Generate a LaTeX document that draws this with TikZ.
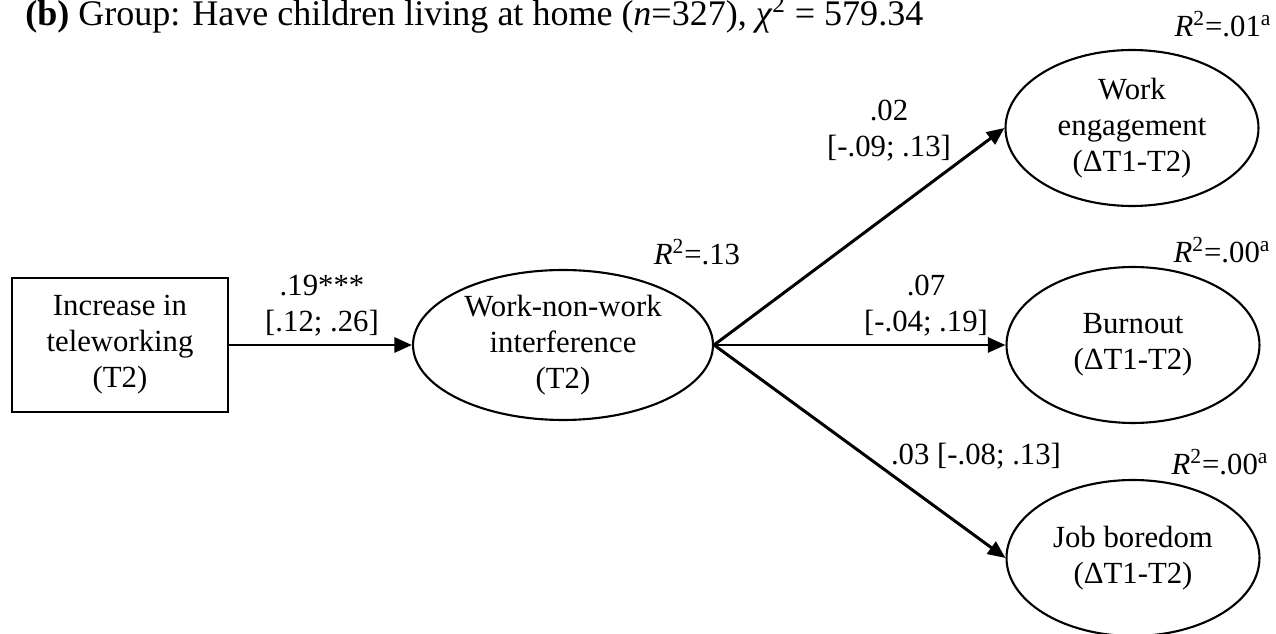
\documentclass[tikz,border=0pt]{standalone}
\usepackage{fontspec}
\setmainfont{Liberation Serif}
\usetikzlibrary{arrows.meta,shapes.geometric}

\tikzset{
    observed/.style={draw, rectangle, line width=1.2pt, align=center,
        minimum width=4.32cm, minimum height=2.68cm, inner sep=0pt},
    latent/.style={draw, ellipse, line width=1.2pt, align=center, inner sep=0pt},
    outcome/.style={latent, minimum width=5.06cm, minimum height=3.12cm},
    regpath/.style={-{Triangle[length=10pt,width=8.5pt]}, line width=1.7pt},
    coef/.style={align=center, inner sep=0pt},
}

\begin{document}
\begin{tikzpicture}[x=0.02cm, y=-0.02cm, font=\fontsize{17.5}{20.5}\selectfont]
    \useasboundingbox (0,0) rectangle (1276,634);

    % Title
    \node[anchor=base west, inner sep=0pt, font=\fontsize{20.5}{24}\selectfont] (title) at (25,26)
        {\textbf{(b)} Group: Have children living at home (\textit{n}=327), \textit{χ}\textsuperscript{2} = 579.34};

    % Variables
    \node[observed] (tele) at (120,345) {Increase in\\teleworking\\(T2)};
    \node[latent, minimum width=6cm, minimum height=3cm] (wnw) at (563,345)
        {Work-non-work\\interference\\(T2)};
    \node[outcome] (eng) at (1132,128) {Work\\engagement\\(ΔT1-T2)};
    \node[outcome] (burn) at (1133,345) {Burnout\\(ΔT1-T2)};
    \node[outcome] (bore) at (1133,558) {Job boredom\\(ΔT1-T2)};

    % Paths
    \draw[regpath] (tele) -- (wnw);
    \draw[regpath] (wnw.east) -- (eng.west);
    \draw[regpath] (wnw.east) -- (burn.west);
    \draw[regpath] (wnw.east) -- (bore.west);

    % Coefficients
    \node[coef] (c1) at (322,306) {.19***\\{}[.12; .26]};
    \node[coef] (c2) at (889,131) {.02\\{}[-.09; .13]};
    \node[coef] (c3) at (926,306) {.07\\{}[-.04; .19]};
    \node[anchor=base, inner sep=0pt] (c4) at (976,465) {.03 [-.08; .13]};

    % Explained variance
    \node[anchor=base, inner sep=0pt] (r1) at (697,265) {\textit{R}\textsuperscript{2}=.13};
    \node[anchor=base, inner sep=0pt] (r2) at (1223,37) {\textit{R}\textsuperscript{2}=.01\textsuperscript{a}};
    \node[anchor=base, inner sep=0pt] (r3) at (1222,263) {\textit{R}\textsuperscript{2}=.00\textsuperscript{a}};
    \node[anchor=base, inner sep=0pt] (r4) at (1220,475) {\textit{R}\textsuperscript{2}=.00\textsuperscript{a}};
\end{tikzpicture}
\end{document}
